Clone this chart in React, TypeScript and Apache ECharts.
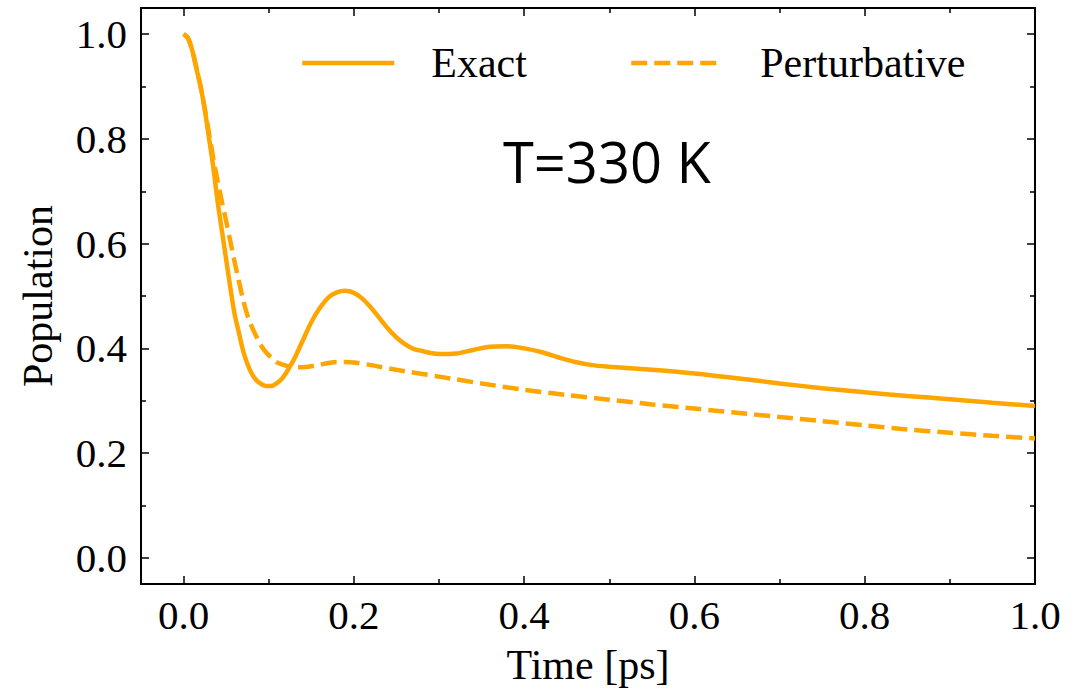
import React, { useEffect, useRef } from "react";
import * as echarts from "echarts";

const exactTime = [0, 0.005, 0.01, 0.015, 0.02, 0.025, 0.03, 0.035, 0.04, 0.045, 0.05, 0.055, 0.06, 0.065, 0.07, 0.075, 0.08, 0.085, 0.09, 0.095, 0.1, 0.105, 0.11, 0.115, 0.12, 0.13, 0.14, 0.15, 0.16, 0.17, 0.18, 0.19, 0.2, 0.21, 0.22, 0.23, 0.24, 0.25, 0.26, 0.27, 0.28, 0.29, 0.3, 0.32, 0.34, 0.36, 0.38, 0.4, 0.42, 0.44, 0.46, 0.48, 0.5, 0.55, 0.6, 0.65, 0.7, 0.75, 0.8, 0.85, 0.9, 0.95, 1.0];
const exactPop = [1.0, 0.993, 0.97, 0.935, 0.9, 0.855, 0.8, 0.745, 0.68, 0.625, 0.57, 0.515, 0.465, 0.43, 0.395, 0.37, 0.352, 0.34, 0.333, 0.329, 0.328, 0.329, 0.334, 0.341, 0.352, 0.38, 0.415, 0.45, 0.477, 0.497, 0.507, 0.51, 0.506, 0.495, 0.478, 0.458, 0.438, 0.421, 0.408, 0.399, 0.395, 0.391, 0.389, 0.39, 0.397, 0.403, 0.404, 0.4, 0.393, 0.383, 0.374, 0.368, 0.365, 0.359, 0.352, 0.343, 0.333, 0.324, 0.316, 0.309, 0.303, 0.296, 0.29];

const pertTime = [0, 0.005, 0.01, 0.015, 0.02, 0.025, 0.03, 0.035, 0.04, 0.045, 0.05, 0.055, 0.06, 0.065, 0.07, 0.075, 0.08, 0.085, 0.09, 0.095, 0.1, 0.105, 0.11, 0.12, 0.13, 0.14, 0.15, 0.16, 0.17, 0.18, 0.19, 0.2, 0.22, 0.25, 0.3, 0.35, 0.4, 0.45, 0.5, 0.55, 0.6, 0.65, 0.7, 0.75, 0.8, 0.85, 0.9, 0.95, 1.0];
const pertPop = [1.0, 0.993, 0.97, 0.937, 0.9, 0.857, 0.81, 0.762, 0.72, 0.68, 0.643, 0.604, 0.565, 0.528, 0.492, 0.463, 0.442, 0.424, 0.408, 0.396, 0.387, 0.379, 0.373, 0.367, 0.364, 0.364, 0.366, 0.369, 0.372, 0.374, 0.374, 0.373, 0.368, 0.359, 0.346, 0.333, 0.321, 0.311, 0.302, 0.293, 0.285, 0.277, 0.269, 0.261, 0.253, 0.245, 0.239, 0.233, 0.228];

const majorTicks = [0, 0.2, 0.4, 0.6, 0.8, 1.0];
const minorTicks = [0.1, 0.3, 0.5, 0.7, 0.9];
const seriesNames = ["Exact", "Perturbative"];
const xTitle = "Time [ps]";
const yTitle = "Population";
const annotation = "T=330 K";

const SERIF = "'Liberation Serif', 'Times New Roman', serif";
const ORANGE = "#FFA500";
const DASH = [16, 7];

function mkAxis(kind: "x" | "y", position: string, ticks: number[], len: number, labels: boolean, line: boolean) {
  const isX = kind === "x";
  return {
    type: "value",
    position,
    min: -0.05,
    max: isX ? 1.0 : 1.05,
    axisLine: { show: line, onZero: false, lineStyle: { color: "#000", width: 2 } },
    axisTick: { show: true, inside: true, length: len, customValues: ticks, lineStyle: { color: "#000", width: 1.5 } },
    axisLabel: {
      show: labels,
      customValues: ticks,
      formatter: (v: number) => v.toFixed(1),
      fontFamily: SERIF,
      fontSize: 41,
      color: "#000",
      margin: isX ? 10 : 14,
    },
    splitLine: { show: false },
  };
}

export default function App() {
  const ref = useRef<HTMLDivElement>(null);
  useEffect(() => {
    const chart = echarts.init(ref.current!, null, { renderer: "svg" });
    const xAxes: any[] = [
      { ...mkAxis("x", "bottom", majorTicks, 8, true, true), name: xTitle, nameLocation: "middle", nameGap: 60, nameTextStyle: { fontFamily: SERIF, fontSize: 42, color: "#000" } },
      mkAxis("x", "bottom", minorTicks, 5, false, false),
      mkAxis("x", "top", majorTicks, 8, false, true),
      mkAxis("x", "top", minorTicks, 5, false, false),
    ];
    const yAxes: any[] = [
      { ...mkAxis("y", "left", majorTicks, 8, true, true), name: yTitle, nameLocation: "middle", nameGap: 82, nameTextStyle: { fontFamily: SERIF, fontSize: 42, color: "#000" } },
      mkAxis("y", "left", minorTicks, 5, false, false),
      mkAxis("y", "right", majorTicks, 8, false, true),
      mkAxis("y", "right", minorTicks, 5, false, false),
    ];
    const legendCommon = {
      orient: "horizontal",
      itemWidth: 92,
      itemHeight: 5,
      padding: 0,
      top: 42,
      itemStyle: { opacity: 0 },
      textStyle: { fontFamily: SERIF, fontSize: 42, color: "#000", padding: [0, 0, 0, 32] },
    };
    chart.setOption({
      animation: false,
      backgroundColor: "#fff",
      grid: { left: 141, right: 49, top: 8, bottom: 108, containLabel: false },
      xAxis: xAxes,
      yAxis: yAxes,
      legend: [
        { ...legendCommon, left: 300, data: [seriesNames[0]], lineStyle: { width: 4.5, color: ORANGE, type: "solid" } },
        { ...legendCommon, left: 629, data: [seriesNames[1]], lineStyle: { width: 4.5, color: ORANGE, type: DASH } },
      ],
      graphic: [
        {
          type: "text",
          left: 503,
          top: 133,
          style: { text: annotation, fontFamily: "'Open Sans', 'Noto Sans', sans-serif", fontSize: 56, fill: "#000" },
        },
      ],
      series: [
        {
          name: seriesNames[0],
          type: "line",
          data: exactTime.map((t, i) => [t, exactPop[i]]),
          showSymbol: false,
          symbol: "none",
          smooth: 0.3,
          lineStyle: { color: ORANGE, width: 4.5 },
          itemStyle: { color: ORANGE },
          z: 3,
        },
        {
          name: seriesNames[1],
          type: "line",
          data: pertTime.map((t, i) => [t, pertPop[i]]),
          showSymbol: false,
          symbol: "none",
          smooth: 0.3,
          lineStyle: { color: ORANGE, width: 4.5, type: DASH },
          itemStyle: { color: ORANGE },
          z: 2,
        },
      ],
    });
    return () => chart.dispose();
  }, []);
  return <div ref={ref} style={{ position: "fixed", left: 0, top: 0, width: 1084, height: 692 }} />;
}
